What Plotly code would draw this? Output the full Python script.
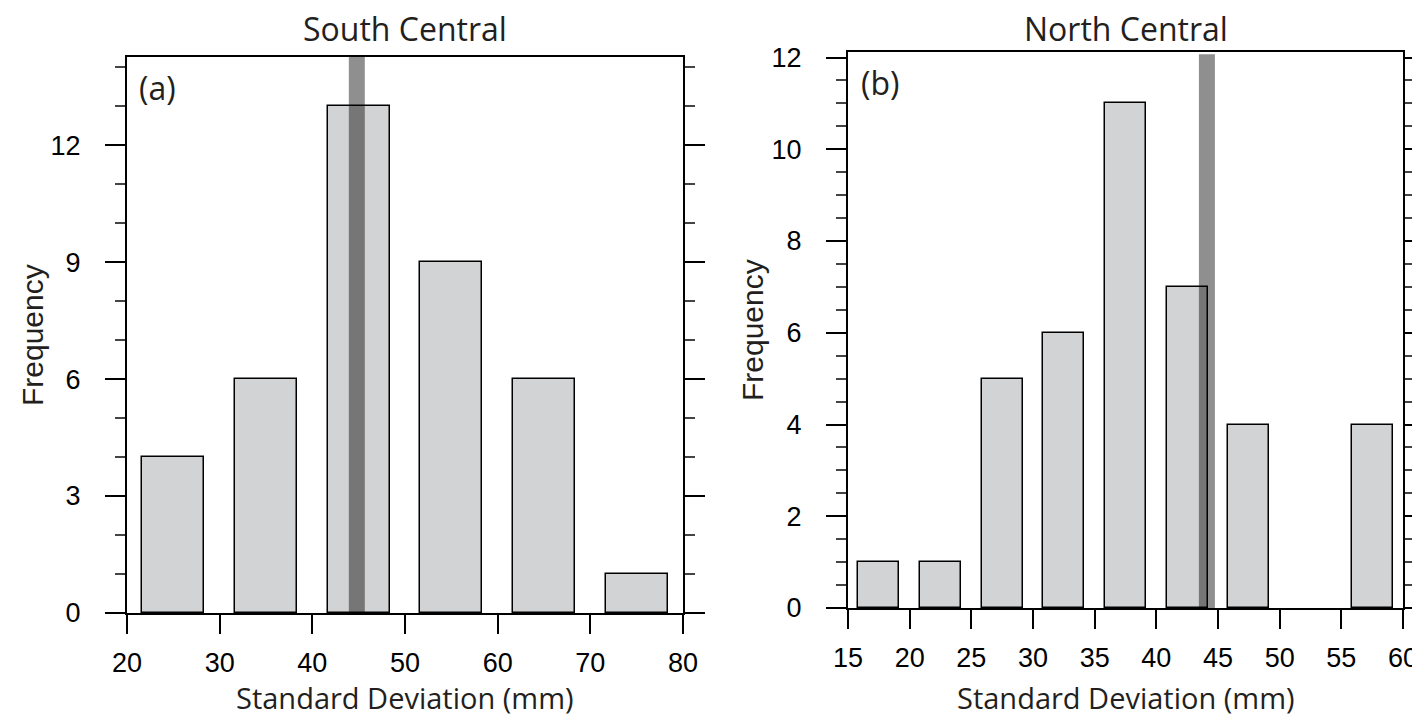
import plotly.graph_objects as go

# ---- data ----
sc_centers = [25, 35, 45, 55, 65, 75]
sc_freq = [4, 6, 13, 9, 6, 1]
sc_mean = 44.8

nc_centers = [17.5, 22.5, 27.5, 32.5, 37.5, 42.5, 47.5, 52.5, 57.5]
nc_freq = [1, 1, 5, 6, 11, 7, 4, 0, 4]
nc_mean = 44.1

sc_ticks = [20, 30, 40, 50, 60, 70, 80]
nc_ticks = [15, 20, 25, 30, 35, 40, 45, 50, 55, 60]

BAR_FILL = "#d2d3d5"
MEAN_COLOR = "rgba(0,0,0,0.44)"
TICK_FONT = dict(family="Liberation Sans, Arial, sans-serif", size=27, color="black")
TITLE_FONT = "Open Sans, sans-serif"

def outline(vals):
    return [1.5 if v > 0 else 0 for v in vals]

fig = go.Figure()
fig.add_trace(go.Bar(x=sc_centers, y=sc_freq, width=6.7,
                     marker=dict(color=BAR_FILL, line=dict(color="black", width=outline(sc_freq))),
                     xaxis="x", yaxis="y", showlegend=False))
fig.add_trace(go.Bar(x=nc_centers, y=nc_freq, width=3.33,
                     marker=dict(color=BAR_FILL, line=dict(color="black", width=outline(nc_freq))),
                     xaxis="x2", yaxis="y2", showlegend=False))

fig.add_shape(type="line", x0=sc_mean, x1=sc_mean, y0=0, y1=1, xref="x", yref="y domain",
              line=dict(color=MEAN_COLOR, width=16))
fig.add_shape(type="line", x0=nc_mean, x1=nc_mean, y0=0, y1=0.996, xref="x2", yref="y2 domain",
              line=dict(color=MEAN_COLOR, width=16))

common_x = dict(showgrid=False, zeroline=False, showline=True, linecolor="black", linewidth=2.2, mirror=True,
                ticks="outside", ticklen=19, tickwidth=2.2, tickcolor="black", tickfont=TICK_FONT,
                ticklabelstandoff=5, automargin=False, ticklabeloverflow="allow")
common_y = dict(showgrid=False, zeroline=False, showline=True, linecolor="black", linewidth=2.2, mirror="ticks",
                ticks="outside", ticklen=20, tickwidth=2.2, tickcolor="black", tickfont=TICK_FONT,
                ticklabelstandoff=19, automargin=False, ticklabeloverflow="allow")

fig.update_layout(
    width=1412, height=721, margin=dict(l=0, r=0, t=0, b=0, autoexpand=False),
    paper_bgcolor="white", plot_bgcolor="white", bargap=0,
    xaxis=dict(domain=[127/1412, 683/1412], range=[20, 80], tickvals=sc_ticks, anchor="y", **common_x),
    yaxis=dict(domain=[108/721, 664/721], range=[0, 14.26], tickvals=[0, 3, 6, 9, 12], anchor="x",
               minor=dict(dtick=1, ticklen=10, tickwidth=1.5, tickcolor="#444", ticks="outside"), **common_y),
    xaxis2=dict(domain=[848/1412, 1403/1412], range=[15, 60], tickvals=nc_ticks, anchor="y2", **common_x),
    yaxis2=dict(domain=[113/721, 669/721], range=[0, 12.12], tickvals=[0, 2, 4, 6, 8, 10, 12], anchor="x2",
                minor=dict(dtick=0.5, ticklen=10, tickwidth=1.5, tickcolor="#444", ticks="outside"), **common_y),
)

def ann(text, x, y, size, family, angle=0):
    fig.add_annotation(text=text, x=x/1412, y=1 - y/721, xref="paper", yref="paper", showarrow=False,
                       xanchor="center", yanchor="middle", textangle=angle,
                       font=dict(family=family, size=size, color="#231f20"))

ann("South Central", 405, 29, 32, TITLE_FONT)
ann("North Central", 1125.5, 29, 32, TITLE_FONT)
ann("Standard Deviation (mm)", 405, 697, 29, TITLE_FONT)
ann("Standard Deviation (mm)", 1125.5, 697, 29, TITLE_FONT)
ann("Frequency", 32, 335, 30, "Liberation Sans, Arial, sans-serif", -90)
ann("Frequency", 752, 330, 30, "Liberation Sans, Arial, sans-serif", -90)
ann("(a)", 157, 88, 32, TITLE_FONT)
ann("(b)", 880, 83, 32, TITLE_FONT)

fig.write_html("out.html")
